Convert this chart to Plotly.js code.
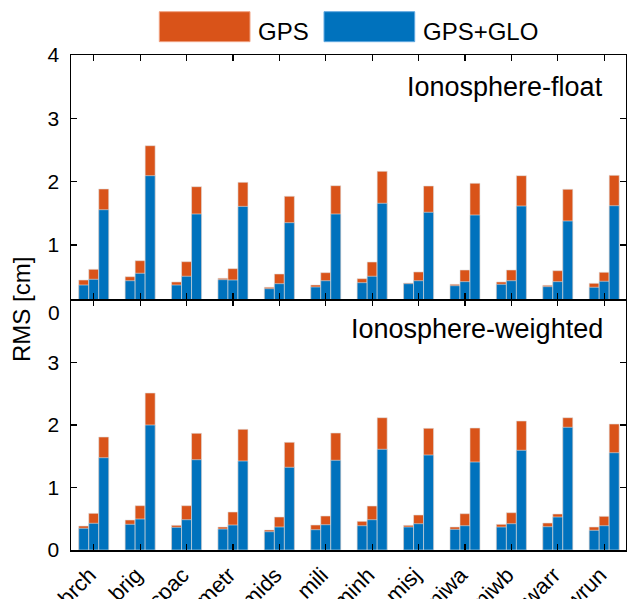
<!DOCTYPE html>
<html>
<head>
<meta charset="utf-8">
<script src="https://cdn.plot.ly/plotly-3.0.1.min.js"></script>
<style>
  html, body { margin: 0; padding: 0; background: #fff; }
  #chart { width: 627px; height: 599px; }
</style>
</head>
<body>
<div id="chart"></div>
<script>
// ---- data (RMS in cm) ----
const stations = ['brch','brig','cpac','metr','mids','mili','minh','misj','miwa','miwb','warr','wrun'];
const components = ['E','N','U'];

// Ionosphere-float
const floatGpsE    = [0.448,0.500,0.417,0.475,0.333,0.369,0.469,0.401,0.380,0.417,0.364,0.396];
const floatGpsN    = [0.617,0.753,0.737,0.627,0.543,0.564,0.732,0.575,0.606,0.606,0.595,0.570];
const floatGpsU    = [1.885,2.568,1.921,1.990,1.770,1.937,2.164,1.932,1.975,2.095,1.880,2.100];
const floatGloE    = [0.369,0.437,0.369,0.453,0.311,0.338,0.406,0.390,0.358,0.380,0.343,0.333];
const floatGloN    = [0.459,0.554,0.507,0.448,0.390,0.437,0.507,0.437,0.422,0.437,0.422,0.428];
const floatGloU    = [1.558,2.095,1.490,1.610,1.353,1.490,1.659,1.517,1.474,1.616,1.380,1.621];

// Ionosphere-weighted
const weightGpsE   = [0.384,0.480,0.395,0.368,0.320,0.400,0.459,0.395,0.368,0.411,0.432,0.368];
const weightGpsN   = [0.587,0.709,0.709,0.608,0.528,0.544,0.704,0.560,0.581,0.597,0.576,0.539];
const weightGpsU   = [1.808,2.512,1.867,1.931,1.723,1.872,2.117,1.947,1.952,2.064,2.117,2.016];
const weightGloE   = [0.347,0.411,0.363,0.336,0.293,0.325,0.389,0.368,0.331,0.368,0.373,0.315];
const weightGloN   = [0.427,0.496,0.485,0.400,0.368,0.405,0.485,0.421,0.389,0.421,0.528,0.389];
const weightGloU   = [1.477,2.000,1.445,1.424,1.323,1.435,1.611,1.520,1.408,1.595,1.963,1.557];

const yTicksTop = [1,2,3,4];
const yTicksBottom = [0,1,2,3];

// ---- styles ----
const ORANGE = '#D95319';
const BLUE = '#0072BD';
const FONT = 'Liberation Sans, Arial, Helvetica, sans-serif';
const barW = 0.2155;
const offsets = [-1.5*barW, -0.5*barW, 0.5*barW];
const edge = {color: 'rgba(225,225,225,0.75)', width: 0.8};

function mk(vals, comp, color, name, xa, ya) {
  return {
    type: 'bar', x: stations, y: vals, name: name + ' ' + components[comp],
    offset: offsets[comp], width: barW,
    marker: {color: color, line: edge},
    xaxis: xa, yaxis: ya, showlegend: false,
    hovertemplate: '%{x} ' + components[comp] + ': %{y} cm<extra>' + name + '</extra>'
  };
}

const data = [
  // top panel: GPS behind, GPS+GLO in front
  mk(floatGpsE, 0, ORANGE, 'GPS', 'x', 'y'),
  mk(floatGpsN, 1, ORANGE, 'GPS', 'x', 'y'),
  mk(floatGpsU, 2, ORANGE, 'GPS', 'x', 'y'),
  mk(floatGloE, 0, BLUE, 'GPS+GLO', 'x', 'y'),
  mk(floatGloN, 1, BLUE, 'GPS+GLO', 'x', 'y'),
  mk(floatGloU, 2, BLUE, 'GPS+GLO', 'x', 'y'),
  // bottom panel
  mk(weightGpsE, 0, ORANGE, 'GPS', 'x2', 'y2'),
  mk(weightGpsN, 1, ORANGE, 'GPS', 'x2', 'y2'),
  mk(weightGpsU, 2, ORANGE, 'GPS', 'x2', 'y2'),
  mk(weightGloE, 0, BLUE, 'GPS+GLO', 'x2', 'y2'),
  mk(weightGloN, 1, BLUE, 'GPS+GLO', 'x2', 'y2'),
  mk(weightGloU, 2, BLUE, 'GPS+GLO', 'x2', 'y2')
];

const axisCommon = {
  showline: true, linecolor: '#000', linewidth: 1.5, mirror: 'ticks',
  ticks: 'inside', ticklen: 6, tickwidth: 1.2, tickcolor: '#000',
  showgrid: false, zeroline: false,
  tickfont: {family: FONT, size: 21, color: '#000'}
};

const layout = {
  width: 627, height: 599,
  margin: {l: 71, r: 1, t: 55, b: 49, pad: 0},
  paper_bgcolor: '#fff', plot_bgcolor: '#fff',
  barmode: 'overlay',
  showlegend: false,
  font: {family: FONT, color: '#000'},
  xaxis: Object.assign({}, axisCommon, {
    type: 'category', categoryorder: 'array', categoryarray: stations,
    range: [-0.49, 11.47], anchor: 'y', domain: [0, 1],
    showticklabels: false
  }),
  yaxis: Object.assign({}, axisCommon, {
    range: [0.148, 4], domain: [0.50707, 1], anchor: 'x',
    tickmode: 'array', tickvals: yTicksTop, ticklabelstandoff: 6
  }),
  xaxis2: Object.assign({}, axisCommon, {
    type: 'category', categoryorder: 'array', categoryarray: stations,
    range: [-0.49, 11.47], anchor: 'y2', domain: [0, 1],
    tickangle: -45, ticklabelshift: -4, ticklabelstandoff: 2,
    tickfont: {family: FONT, size: 22, color: '#000'}
  }),
  yaxis2: Object.assign({}, axisCommon, {
    range: [0, 4], domain: [0, 0.50505], anchor: 'x2',
    tickmode: 'array', tickvals: yTicksBottom, ticklabelstandoff: 6
  }),
  shapes: [
    {type: 'rect', xref: 'paper', yref: 'paper', x0: 0.1591, x1: 0.3225, y0: 1.0269, y1: 1.0875,
     fillcolor: ORANGE, line: {color: '#f0a080', width: 1}},
    {type: 'rect', xref: 'paper', yref: 'paper', x0: 0.4559, x1: 0.6193, y0: 1.0269, y1: 1.0875,
     fillcolor: BLUE, line: {color: '#60a8e0', width: 1}}
  ],
  annotations: [
    {text: 'GPS', xref: 'paper', yref: 'paper', x: 0.3333, y: 1.0465, xanchor: 'left', yanchor: 'middle',
     showarrow: false, font: {family: FONT, size: 24, color: '#000'}},
    {text: 'GPS+GLO', xref: 'paper', yref: 'paper', x: 0.6301, y: 1.0465, xanchor: 'left', yanchor: 'middle',
     showarrow: false, font: {family: FONT, size: 24, color: '#000'}},
    {text: 'Ionosphere-float', xref: 'paper', yref: 'paper', x: 0.9622, y: 0.9354, xanchor: 'right', yanchor: 'middle',
     showarrow: false, font: {family: FONT, size: 27, color: '#000'}},
    {text: 'Ionosphere-weighted', xref: 'paper', yref: 'paper', x: 0.9622, y: 0.4465, xanchor: 'right', yanchor: 'middle',
     showarrow: false, font: {family: FONT, size: 27, color: '#000'}},
    {text: 'RMS [cm]', xref: 'paper', yref: 'paper', x: -0.0883, y: 0.4869, xanchor: 'center', yanchor: 'middle',
     textangle: -90, showarrow: false, font: {family: FONT, size: 24, color: '#000'}},
    {text: '0', xref: 'paper', yref: 'paper', x: -0.0162, y: 0.4788, xanchor: 'right', yanchor: 'middle',
     showarrow: false, font: {family: FONT, size: 21, color: '#000'}}
  ]
};

Plotly.newPlot('chart', data, layout, {displayModeBar: false, staticPlot: true});
</script>
</body>
</html>
